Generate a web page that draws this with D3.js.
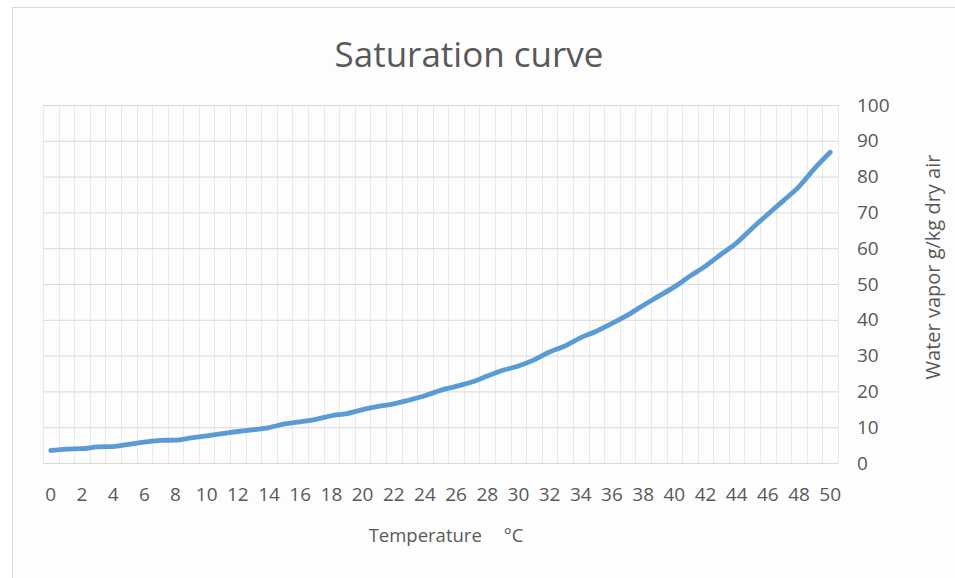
<!DOCTYPE html>
<html>
<head>
<meta charset="utf-8">
<script src="https://cdn.jsdelivr.net/npm/d3@7"></script>
<style>
  body { margin: 0; background: #fff; }
  text { font-family: "Open Sans", "Noto Sans", sans-serif; fill: #595959; }
</style>
</head>
<body>
<div id="chart"></div>
<script>
const temps = d3.range(0, 51)
const vapor = [
    3.5, 3.9, 4.0, 4.5, 4.6, 5.2, 5.8, 6.3, 6.4, 7.0,
    7.6, 8.2, 8.8, 9.3, 9.9, 10.9, 11.5, 12.2, 13.2, 13.8,
    14.9, 15.8, 16.5, 17.6, 18.8, 20.3, 21.4, 22.6, 24.3, 25.9,
    27.1, 28.8, 31.0, 32.7, 35.0, 36.8, 39.0, 41.3, 44.0, 46.6,
    49.2, 52.2, 55.0, 58.3, 61.5, 65.6, 69.5, 73.3, 77.2, 82.3,
    86.8
]
const yTicks = [0, 10, 20, 30, 40, 50, 60, 70, 80, 90, 100]
const xTickLabels = temps.filter(t => t % 2 === 0)

const W = 955, H = 578
const margin = { top: 105, right: 117, bottom: 115, left: 43 }
const width = W - margin.left - margin.right,
    height = H - margin.top - margin.bottom

const svg = d3.select('#chart')
    .append('svg')
    .attr('width', W)
    .attr('height', H)

// chart frame
svg.append('rect')
    .attr('x', 12.5).attr('y', 7.5)
    .attr('width', W).attr('height', H)
    .attr('fill', '#fdfdfd')
    .attr('stroke', '#d9d9d9')

const xS = d3.scaleBand()
    .domain(temps)
    .range([0, width])

const yS = d3.scaleLinear()
    .domain([0, 100])
    .range([height, 0])

const g = svg.append('g')
    .attr('transform', 'translate(' + margin.left + ', ' + margin.top + ')')

// vertical gridlines on category boundaries
g.append('g')
    .selectAll('line')
    .data(d3.range(0, temps.length + 1))
    .enter()
    .append('line')
    .attr('x1', i => Math.round(i * xS.bandwidth()) + 0.5)
    .attr('x2', i => Math.round(i * xS.bandwidth()) + 0.5)
    .attr('y1', 0)
    .attr('y2', height)
    .attr('stroke', '#e9e9e9')

// horizontal gridlines + right axis labels
g.append('g')
    .attr('transform', 'translate(' + width + ', 0)')
    .call(
        d3.axisRight(yS)
            .tickValues(yTicks)
            .tickSize(-width)
            .tickPadding(19)
    )
    .call(ax => ax.select('.domain').remove())
    .call(ax => ax.selectAll('line').attr('stroke', '#d9d9d9'))
    .call(ax => ax.selectAll('text')
        .style('font-size', '19px')
        .attr('fill', '#595959'))

// bottom axis
g.append('g')
    .attr('transform', 'translate(0, ' + height + ')')
    .call(
        d3.axisBottom(xS)
            .tickValues(xTickLabels)
            .tickSize(0)
            .tickPadding(25)
    )
    .call(ax => ax.select('.domain').attr('stroke', '#d9d9d9'))
    .call(ax => ax.selectAll('text')
        .style('font-size', '19px')
        .attr('fill', '#595959'))

const line = d3.line()
    .x((_, i) => xS(temps[i]) + xS.bandwidth() / 2)
    .y(d => yS(d))
    .curve(d3.curveMonotoneX)

g.append('path')
    .datum(vapor)
    .attr('d', line)
    .attr('fill', 'none')
    .attr('stroke', '#5b9bd5')
    .attr('stroke-width', 4.8)
    .attr('stroke-linejoin', 'round')
    .attr('stroke-linecap', 'round')

// title
svg.append('text')
    .attr('x', 469)
    .attr('y', 67)
    .attr('text-anchor', 'middle')
    .style('font-size', '35px')
    .text('Saturation curve')

// x axis title
const xt = svg.append('text')
    .attr('x', 446)
    .attr('y', 542)
    .attr('text-anchor', 'middle')
    .style('font-size', '18.5px')
xt.append('tspan').text('Temperature')
xt.append('tspan').attr('dx', 22).text('°C')

// y axis title
svg.append('text')
    .attr('transform', 'translate(940, 267) rotate(-90)')
    .attr('text-anchor', 'middle')
    .style('font-size', '20px')
    .text('Water vapor g/kg dry air')
</script>
</body>
</html>
